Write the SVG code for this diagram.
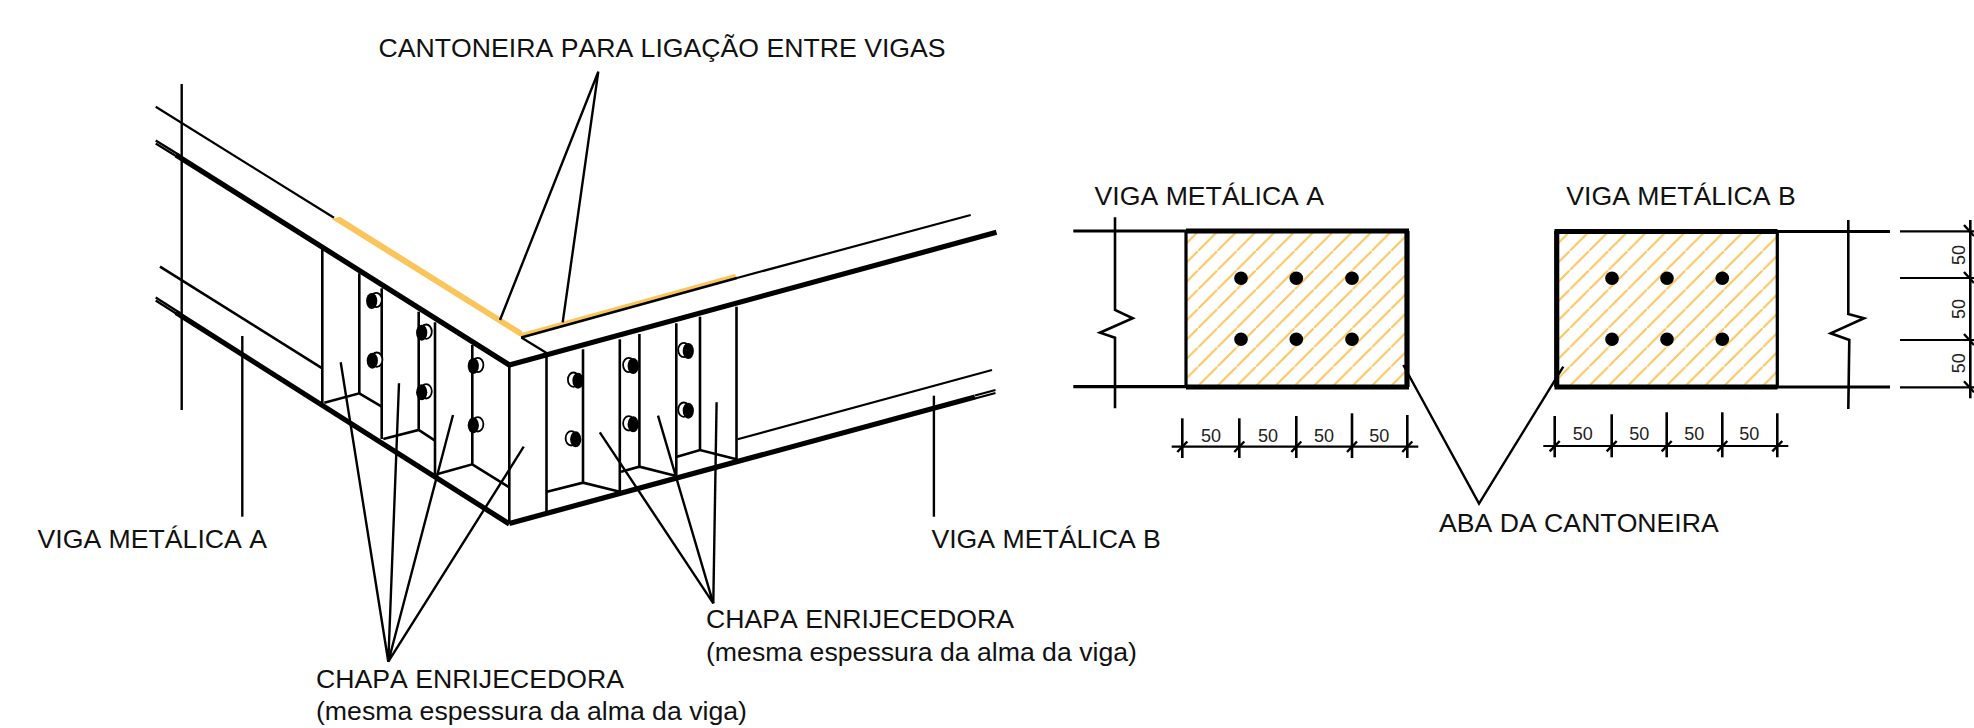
<svg xmlns="http://www.w3.org/2000/svg" width="1974" height="728" viewBox="0 0 1974 728">
<style>
text{font-family:"Liberation Sans",Arial,sans-serif;fill:#111;font-kerning:none}
.t{font-size:26.65px}
.d{font-size:18px;text-anchor:middle;fill:#222}
line,polyline{fill:none;stroke:#000;stroke-linecap:butt;stroke-linejoin:miter}
.n{stroke-width:2.2}
.m{stroke-width:2.6}
.k{stroke-width:5.2}
.ld{stroke-width:2.4}
.f{stroke-width:3.2}
.tk{stroke-width:2.4}
.ring{fill:#fff;stroke:#000;stroke-width:1.8}
.b{fill:#000}
</style>
<defs>
<pattern id="hA" patternUnits="userSpaceOnUse" x="1.5" y="0" width="19.3" height="19.3"><line x1="-2" y1="21.3" x2="21.3" y2="-2" style="stroke:#fbc55c;stroke-width:2"/></pattern>
<pattern id="hB" patternUnits="userSpaceOnUse" x="6.5" y="0" width="19.3" height="19.3"><line x1="-2" y1="21.3" x2="21.3" y2="-2" style="stroke:#fbc55c;stroke-width:2"/></pattern>
<g id="boltL"><ellipse class="ring" cx="4.5" cy="-1" rx="5.6" ry="7.2"/><ellipse class="b" cx="0" cy="0" rx="5.6" ry="8"/></g>
<g id="boltR"><ellipse class="ring" cx="-4.5" cy="-1" rx="5.6" ry="7.2"/><ellipse class="b" cx="0" cy="0" rx="5.6" ry="8"/></g>
</defs>
<rect width="1974" height="728" fill="#fff"/>

<g id="iso-beam-a">
<line class="n" x1="155.7" y1="106.7" x2="334" y2="217.8"/>
<polygon points="331.7,219 340,216.7 522,331 522,337.8" fill="#fbc55c"/>
<line class="n" x1="155.7" y1="140.5" x2="180" y2="155.5"/>
<line class="n" x1="155.7" y1="143.5" x2="180" y2="158.5"/>
<line class="k" x1="176" y1="155" x2="509.3" y2="365"/>
<line class="n" x1="155.7" y1="297.5" x2="180" y2="313"/>
<line class="n" x1="155.7" y1="300.5" x2="180" y2="316"/>
<line class="k" x1="176" y1="312.5" x2="509.3" y2="524"/>
<line class="m" x1="160" y1="266.7" x2="322.3" y2="368.3"/>
<line class="m" x1="322.3" y1="248.3" x2="322.3" y2="403"/>
<line class="m" x1="359.3" y1="273.3" x2="359.3" y2="393.3"/>
<line class="m" x1="381.7" y1="288.3" x2="381.7" y2="439"/>
<line class="m" x1="418.7" y1="311.7" x2="418.7" y2="430"/>
<line class="m" x1="435" y1="322.3" x2="435" y2="474.3"/>
<line class="m" x1="472.3" y1="345" x2="472.3" y2="464.3"/>
<line class="m" x1="509.3" y1="365" x2="509.3" y2="524"/>
<polyline class="m" points="324.3,402.7 359.3,393.3 381.7,406.7"/>
<polyline class="m" points="383.3,439 418.7,430 435,440.7"/>
<polyline class="m" points="436.7,474.3 472.3,464.3 509.3,487.3"/>
<use href="#boltL" x="371.7" y="301"/>
<use href="#boltL" x="372.3" y="360.7"/>
<use href="#boltL" x="421.7" y="332.7"/>
<use href="#boltL" x="421.7" y="392.3"/>
<use href="#boltL" x="473.3" y="366"/>
<use href="#boltL" x="473.3" y="425.3"/>
</g>

<g id="iso-beam-b">
<polygon points="521.5,333 735,274 737,277.5 522,338" fill="#fbc55c"/>
<line class="m" x1="521.3" y1="337.5" x2="737" y2="278"/>
<line class="n" x1="737" y1="278" x2="970.7" y2="215"/>
<line class="n" x1="521.3" y1="337.5" x2="547" y2="353.3"/>
<polyline class="k" points="509.3,365 996.5,232.3"/>
<polyline class="k" points="509.3,523.5 975,397"/>
<line class="n" x1="975" y1="395.5" x2="995.5" y2="390"/>
<line class="n" x1="975" y1="398.5" x2="995.5" y2="393"/>
<line class="n" x1="737.6" y1="439.3" x2="992" y2="370"/>
<line class="m" x1="546.5" y1="356.7" x2="546.5" y2="511.7"/>
<line class="m" x1="583" y1="349.3" x2="583" y2="482.7"/>
<line class="m" x1="619.8" y1="339.3" x2="619.8" y2="491.7"/>
<line class="m" x1="639.4" y1="334" x2="639.4" y2="466.7"/>
<line class="m" x1="676.3" y1="323.3" x2="676.3" y2="475"/>
<line class="m" x1="700" y1="316.7" x2="700" y2="450"/>
<line class="m" x1="736.5" y1="306.7" x2="736.5" y2="459.3"/>
<polyline class="m" points="547,491.7 583,482.7 619.8,491.7"/>
<polyline class="m" points="621,471.7 639.4,466.7 676.3,476"/>
<polyline class="m" points="677,456.7 700,450 736.5,459.3"/>
<use href="#boltR" x="578" y="380.7"/>
<use href="#boltR" x="575.7" y="439.3"/>
<use href="#boltR" x="633.2" y="366"/>
<use href="#boltR" x="633.2" y="424.3"/>
<use href="#boltR" x="688.3" y="351"/>
<use href="#boltR" x="688.3" y="410.7"/>
</g>

<g id="connectors">
<line class="ld" x1="181.7" y1="84" x2="181.7" y2="410"/>
<line class="ld" x1="242.3" y1="336" x2="242.3" y2="516.7"/>
<line class="ld" x1="933.9" y1="395.7" x2="933.9" y2="516.7"/>
<polyline class="ld" points="500,320 598.3,71.7 562.7,322.3"/>
<polyline class="ld" points="340.7,362.3 388.3,661.7 399,383.3"/>
<polyline class="ld" points="453,415 388.3,661.7 523.7,446.7"/>
<polyline class="ld" points="599.8,432.3 713.3,603.3 658,415.7"/>
<line class="ld" x1="716.6" y1="402.3" x2="713.3" y2="603.3"/>
<polyline class="ld" points="1403.3,365 1479,503.6 1563.3,366.7"/>
</g>

<g id="plate-a">
<rect x="1186" y="231" width="221" height="156" fill="url(#hA)"/>
<line class="f" x1="1073.3" y1="231" x2="1186" y2="231"/>
<line class="f" x1="1073.3" y1="386.7" x2="1186" y2="386.7"/>
<line class="k" x1="1186" y1="231" x2="1409" y2="231"/>
<line class="k" x1="1186" y1="387" x2="1409" y2="387"/>
<line class="f" x1="1186" y1="231" x2="1186" y2="387"/>
<line class="k" x1="1407" y1="231" x2="1407" y2="387"/>
<polyline class="m" points="1115,217.3 1115,310 1132.7,318.3 1100,332.7 1115,337.7 1115,408.3"/>
<circle class="b" cx="1241" cy="278.3" r="6.8"/><circle class="b" cx="1296.3" cy="278.3" r="6.8"/><circle class="b" cx="1352" cy="278.3" r="6.8"/>
<circle class="b" cx="1241" cy="339.3" r="6.8"/><circle class="b" cx="1296.3" cy="339.3" r="6.8"/><circle class="b" cx="1352" cy="339.3" r="6.8"/>
</g>

<g id="plate-b">
<rect x="1556.7" y="231" width="220.6" height="156" fill="url(#hB)"/>
<line class="f" x1="1777" y1="231.5" x2="1890" y2="231.5"/>
<line class="f" x1="1777" y1="387" x2="1890" y2="387"/>
<line class="k" x1="1554.5" y1="231.5" x2="1777.5" y2="231.5"/>
<line class="k" x1="1554.5" y1="387" x2="1777.5" y2="387"/>
<line class="k" x1="1556.7" y1="231" x2="1556.7" y2="387"/>
<line class="f" x1="1777.3" y1="231" x2="1777.3" y2="387"/>
<polyline class="m" points="1848.3,220 1848.3,314 1864,318.3 1830.7,333.3 1849.3,340 1848.3,409"/>
<circle class="b" cx="1612" cy="278.3" r="6.8"/><circle class="b" cx="1667" cy="278.3" r="6.8"/><circle class="b" cx="1722.3" cy="278.3" r="6.8"/>
<circle class="b" cx="1612" cy="339.3" r="6.8"/><circle class="b" cx="1667" cy="339.3" r="6.8"/><circle class="b" cx="1722.3" cy="339.3" r="6.8"/>
</g>

<g id="dim-a">
<line class="n" x1="1171.7" y1="446.7" x2="1418.3" y2="446.7"/>
<line class="m" x1="1182.3" y1="418.3" x2="1182.3" y2="458"/>
<line class="m" x1="1239.3" y1="418.3" x2="1239.3" y2="458"/>
<line class="m" x1="1296.3" y1="416" x2="1296.3" y2="458"/>
<line class="m" x1="1352" y1="413.3" x2="1352" y2="458"/>
<line class="m" x1="1407.3" y1="415" x2="1407.3" y2="458"/>
<line class="tk" x1="1177.3" y1="452" x2="1187.3" y2="441.5"/>
<line class="tk" x1="1234.3" y1="452" x2="1244.3" y2="441.5"/>
<line class="tk" x1="1291.3" y1="452" x2="1301.3" y2="441.5"/>
<line class="tk" x1="1347" y1="452" x2="1357" y2="441.5"/>
<line class="tk" x1="1402.3" y1="452" x2="1412.3" y2="441.5"/>
<text class="d" x="1211" y="441.7">50</text>
<text class="d" x="1268" y="441.7">50</text>
<text class="d" x="1324" y="441.7">50</text>
<text class="d" x="1379.3" y="441.7">50</text>
</g>

<g id="dim-b">
<line class="n" x1="1543.3" y1="446" x2="1788.3" y2="446"/>
<line class="m" x1="1554.7" y1="416" x2="1554.7" y2="457.3"/>
<line class="m" x1="1611.7" y1="414.3" x2="1611.7" y2="457.3"/>
<line class="m" x1="1666.7" y1="412.3" x2="1666.7" y2="457.3"/>
<line class="m" x1="1722.3" y1="412.3" x2="1722.3" y2="457.3"/>
<line class="m" x1="1777.3" y1="413.3" x2="1777.3" y2="457.3"/>
<line class="tk" x1="1549.7" y1="451.3" x2="1559.7" y2="441"/>
<line class="tk" x1="1606.7" y1="451.3" x2="1616.7" y2="441"/>
<line class="tk" x1="1661.7" y1="451.3" x2="1671.7" y2="441"/>
<line class="tk" x1="1717.3" y1="451.3" x2="1727.3" y2="441"/>
<line class="tk" x1="1772.3" y1="451.3" x2="1782.3" y2="441"/>
<text class="d" x="1582.7" y="440">50</text>
<text class="d" x="1639.3" y="440">50</text>
<text class="d" x="1694.3" y="440">50</text>
<text class="d" x="1749.3" y="440">50</text>
</g>

<g id="dim-c">
<line class="n" x1="1900" y1="231.3" x2="1974" y2="231.3"/>
<line class="n" x1="1900" y1="278" x2="1974" y2="278"/>
<line class="n" x1="1900" y1="340" x2="1974" y2="340"/>
<line class="n" x1="1900" y1="387.3" x2="1974" y2="387.3"/>
<line class="m" x1="1970.3" y1="220" x2="1970.3" y2="398.3"/>
<line class="tk" x1="1964" y1="225" x2="1974" y2="236"/>
<line class="tk" x1="1964" y1="272" x2="1974" y2="283"/>
<line class="tk" x1="1964" y1="334" x2="1974" y2="345"/>
<line class="tk" x1="1964" y1="381.3" x2="1974" y2="392.3"/>
<text class="d" transform="translate(1965 255) rotate(-90)">50</text>
<text class="d" transform="translate(1965 309) rotate(-90)">50</text>
<text class="d" transform="translate(1965 363.3) rotate(-90)">50</text>
</g>

<g id="labels">
<text class="t" x="378.6" y="56.5">CANTONEIRA PARA LIGAÇÃO ENTRE VIGAS</text>
<text class="t" x="37.5" y="547.5">VIGA METÁLICA A</text>
<text class="t" x="931.4" y="547.5">VIGA METÁLICA B</text>
<text class="t" x="1094.6" y="205">VIGA METÁLICA A</text>
<text class="t" x="1566.3" y="205">VIGA METÁLICA B</text>
<text class="t" x="1439" y="531.5">ABA DA CANTONEIRA</text>
<text class="t" x="706" y="628.3">CHAPA ENRIJECEDORA</text>
<text class="t" x="706" y="661">(mesma espessura da alma da viga)</text>
<text class="t" x="316" y="688.3">CHAPA ENRIJECEDORA</text>
<text class="t" x="316" y="720">(mesma espessura da alma da viga)</text>
</g>
</svg>
